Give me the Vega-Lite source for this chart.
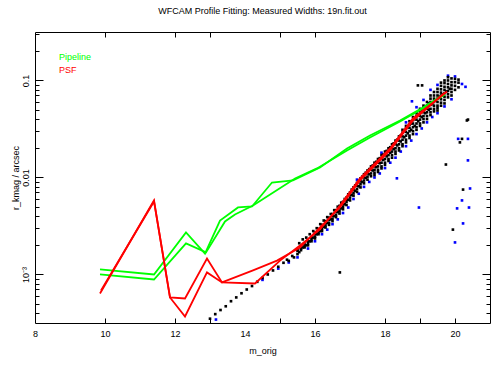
{
  "$schema": "https://vega.github.io/schema/vega-lite/v6.json",
  "autosize": "none",
  "width": 455,
  "height": 291,
  "padding": {"left": 35, "top": 32, "right": 7, "bottom": 42},
  "background": "white",
  "config": {
    "view": {"stroke": "#000000", "strokeWidth": 1},
    "font": "Liberation Sans",
    "axis": {"labelFont": "Liberation Sans", "titleFont": "Liberation Sans", "labelFontSize": 9, "titleFontSize": 9, "labelColor": "#000", "titleColor": "#000", "tickColor": "#000", "grid": false, "domain": false, "titleFontWeight": "normal"}
  },
  "title": {"text": "WFCAM Profile Fitting: Measured Widths: 19n.fit.out", "fontSize": 9, "font": "Liberation Sans", "fontWeight": "normal", "color": "#000", "offset": 16, "anchor": "middle"},
  "datasets": {
    "blue": [
      {"m": 13.17, "w": 0.000343}, {"m": 14.5, "w": 0.00088}, {"m": 14.95, "w": 0.00115}, {"m": 15.25, "w": 0.00133},
      {"m": 15.5, "w": 0.0015}, {"m": 15.8, "w": 0.00185}, {"m": 16.0, "w": 0.0022}, {"m": 16.2, "w": 0.0026},
      {"m": 16.35, "w": 0.0029}, {"m": 16.5, "w": 0.0033}, {"m": 16.65, "w": 0.0037}, {"m": 16.8, "w": 0.0043},
      {"m": 16.95, "w": 0.0049}, {"m": 17.1, "w": 0.006}, {"m": 17.25, "w": 0.0068}, {"m": 17.4, "w": 0.008},
      {"m": 17.55, "w": 0.009}, {"m": 17.7, "w": 0.01}, {"m": 17.85, "w": 0.011}, {"m": 18.0, "w": 0.0125},
      {"m": 18.15, "w": 0.0142}, {"m": 18.3, "w": 0.016}, {"m": 18.45, "w": 0.0185}, {"m": 18.6, "w": 0.021},
      {"m": 18.75, "w": 0.024}, {"m": 18.9, "w": 0.028}, {"m": 19.05, "w": 0.032}, {"m": 19.2, "w": 0.037},
      {"m": 19.35, "w": 0.042}, {"m": 19.5, "w": 0.046}, {"m": 19.7, "w": 0.054}, {"m": 19.9, "w": 0.064},
      {"m": 17.2, "w": 0.0095}, {"m": 17.9, "w": 0.018}, {"m": 18.6, "w": 0.037}, {"m": 18.77, "w": 0.061},
      {"m": 18.9, "w": 0.053}, {"m": 19.1, "w": 0.063}, {"m": 19.3, "w": 0.08}, {"m": 19.5, "w": 0.09},
      {"m": 19.8, "w": 0.112}, {"m": 20.0, "w": 0.11}, {"m": 20.2, "w": 0.092}, {"m": 20.3, "w": 0.086},
      {"m": 18.34, "w": 0.0098}, {"m": 18.97, "w": 0.0049}, {"m": 20.37, "w": 0.015}, {"m": 20.43, "w": 0.0077},
      {"m": 20.2, "w": 0.0058}, {"m": 20.06, "w": 0.0048}, {"m": 20.4, "w": 0.0049}, {"m": 20.23, "w": 0.00336},
      {"m": 20.0, "w": 0.00214}, {"m": 20.09, "w": 0.025}, {"m": 20.37, "w": 0.025}
    ],
    "black": [
      {"m": 13.0, "w": 0.00035}, {"m": 13.15, "w": 0.00039}, {"m": 13.3, "w": 0.00043}, {"m": 13.45, "w": 0.00047},
      {"m": 13.6, "w": 0.00053}, {"m": 13.75, "w": 0.00058}, {"m": 13.9, "w": 0.00064}, {"m": 14.05, "w": 0.0007},
      {"m": 14.2, "w": 0.00076}, {"m": 14.35, "w": 0.00084}, {"m": 14.5, "w": 0.00092}, {"m": 14.65, "w": 0.001},
      {"m": 14.8, "w": 0.0011}, {"m": 14.95, "w": 0.0012}, {"m": 15.1, "w": 0.00132}, {"m": 15.2, "w": 0.00142},
      {"m": 15.25, "w": 0.00138}, {"m": 15.35, "w": 0.00155}, {"m": 15.4, "w": 0.0015}, {"m": 16.71, "w": 0.00105},
      {"m": 15.5, "w": 0.00162}, {"m": 15.5, "w": 0.00175}, {"m": 15.5, "w": 0.0018},
      {"m": 15.6, "w": 0.00178}, {"m": 15.6, "w": 0.00185}, {"m": 15.6, "w": 0.00195},
      {"m": 15.7, "w": 0.00195}, {"m": 15.7, "w": 0.00205}, {"m": 15.7, "w": 0.0019},
      {"m": 15.8, "w": 0.0021}, {"m": 15.8, "w": 0.0022}, {"m": 15.8, "w": 0.002},
      {"m": 15.9, "w": 0.0023}, {"m": 15.9, "w": 0.0024}, {"m": 15.9, "w": 0.0022},
      {"m": 16.0, "w": 0.00245}, {"m": 16.0, "w": 0.0026}, {"m": 16.0, "w": 0.00235}, {"m": 16.0, "w": 0.0027},
      {"m": 16.1, "w": 0.0027}, {"m": 16.1, "w": 0.00285}, {"m": 16.1, "w": 0.0026}, {"m": 16.1, "w": 0.00295},
      {"m": 16.2, "w": 0.00295}, {"m": 16.2, "w": 0.0031}, {"m": 16.2, "w": 0.0028}, {"m": 16.2, "w": 0.00325},
      {"m": 16.3, "w": 0.0032}, {"m": 16.3, "w": 0.0034}, {"m": 16.3, "w": 0.00305}, {"m": 16.3, "w": 0.00355},
      {"m": 16.4, "w": 0.0034}, {"m": 16.4, "w": 0.00365}, {"m": 16.4, "w": 0.00325}, {"m": 16.4, "w": 0.00385},
      {"m": 16.5, "w": 0.00375}, {"m": 16.5, "w": 0.004}, {"m": 16.5, "w": 0.00355}, {"m": 16.5, "w": 0.0042},
      {"m": 16.6, "w": 0.0041}, {"m": 16.6, "w": 0.0044}, {"m": 16.6, "w": 0.0039}, {"m": 16.6, "w": 0.0046},
      {"m": 16.7, "w": 0.0045}, {"m": 16.7, "w": 0.0048}, {"m": 16.7, "w": 0.00425}, {"m": 16.7, "w": 0.0051},
      {"m": 16.8, "w": 0.005}, {"m": 16.8, "w": 0.0053}, {"m": 16.8, "w": 0.0047}, {"m": 16.8, "w": 0.0056},
      {"m": 16.9, "w": 0.0056}, {"m": 16.9, "w": 0.0059}, {"m": 16.9, "w": 0.0052}, {"m": 16.9, "w": 0.0062},
      {"m": 17.0, "w": 0.0062}, {"m": 17.0, "w": 0.0066}, {"m": 17.0, "w": 0.0058}, {"m": 17.0, "w": 0.007},
      {"m": 17.1, "w": 0.0069}, {"m": 17.1, "w": 0.0074}, {"m": 17.1, "w": 0.0065}, {"m": 17.1, "w": 0.0079},
      {"m": 17.2, "w": 0.0076}, {"m": 17.2, "w": 0.0082}, {"m": 17.2, "w": 0.0071}, {"m": 17.2, "w": 0.0088},
      {"m": 17.3, "w": 0.0085}, {"m": 17.3, "w": 0.0091}, {"m": 17.3, "w": 0.0079}, {"m": 17.3, "w": 0.0098},
      {"m": 17.4, "w": 0.0093}, {"m": 17.4, "w": 0.01}, {"m": 17.4, "w": 0.0087}, {"m": 17.4, "w": 0.0108},
      {"m": 17.5, "w": 0.0102}, {"m": 17.5, "w": 0.011}, {"m": 17.5, "w": 0.0095}, {"m": 17.5, "w": 0.0118},
      {"m": 17.6, "w": 0.011}, {"m": 17.6, "w": 0.012}, {"m": 17.6, "w": 0.0103}, {"m": 17.6, "w": 0.013},
      {"m": 17.7, "w": 0.012}, {"m": 17.7, "w": 0.013}, {"m": 17.7, "w": 0.0112}, {"m": 17.7, "w": 0.0142}, {"m": 17.7, "w": 0.0106},
      {"m": 17.8, "w": 0.013}, {"m": 17.8, "w": 0.0142}, {"m": 17.8, "w": 0.012}, {"m": 17.8, "w": 0.0155}, {"m": 17.8, "w": 0.0114},
      {"m": 17.9, "w": 0.0142}, {"m": 17.9, "w": 0.0155}, {"m": 17.9, "w": 0.013}, {"m": 17.9, "w": 0.017}, {"m": 17.9, "w": 0.0124},
      {"m": 18.0, "w": 0.0155}, {"m": 18.0, "w": 0.017}, {"m": 18.0, "w": 0.0142}, {"m": 18.0, "w": 0.0185}, {"m": 18.0, "w": 0.0135},
      {"m": 18.1, "w": 0.017}, {"m": 18.1, "w": 0.0185}, {"m": 18.1, "w": 0.0155}, {"m": 18.1, "w": 0.02}, {"m": 18.1, "w": 0.0148},
      {"m": 18.2, "w": 0.0185}, {"m": 18.2, "w": 0.02}, {"m": 18.2, "w": 0.017}, {"m": 18.2, "w": 0.022}, {"m": 18.2, "w": 0.016},
      {"m": 18.3, "w": 0.02}, {"m": 18.3, "w": 0.022}, {"m": 18.3, "w": 0.0185}, {"m": 18.3, "w": 0.024}, {"m": 18.3, "w": 0.0175},
      {"m": 18.4, "w": 0.022}, {"m": 18.4, "w": 0.024}, {"m": 18.4, "w": 0.02}, {"m": 18.4, "w": 0.0265}, {"m": 18.4, "w": 0.019},
      {"m": 18.5, "w": 0.0245}, {"m": 18.5, "w": 0.0265}, {"m": 18.5, "w": 0.022}, {"m": 18.5, "w": 0.029}, {"m": 18.5, "w": 0.021}, {"m": 18.5, "w": 0.031},
      {"m": 18.6, "w": 0.027}, {"m": 18.6, "w": 0.0295}, {"m": 18.6, "w": 0.0245}, {"m": 18.6, "w": 0.032}, {"m": 18.6, "w": 0.023}, {"m": 18.6, "w": 0.034},
      {"m": 18.7, "w": 0.03}, {"m": 18.7, "w": 0.0325}, {"m": 18.7, "w": 0.027}, {"m": 18.7, "w": 0.035}, {"m": 18.7, "w": 0.0255}, {"m": 18.7, "w": 0.038},
      {"m": 18.8, "w": 0.033}, {"m": 18.8, "w": 0.036}, {"m": 18.8, "w": 0.03}, {"m": 18.8, "w": 0.039}, {"m": 18.8, "w": 0.028}, {"m": 18.8, "w": 0.042},
      {"m": 18.9, "w": 0.036}, {"m": 18.9, "w": 0.0395}, {"m": 18.9, "w": 0.033}, {"m": 18.9, "w": 0.043}, {"m": 18.9, "w": 0.031}, {"m": 18.9, "w": 0.046},
      {"m": 19.0, "w": 0.0395}, {"m": 19.0, "w": 0.043}, {"m": 19.0, "w": 0.036}, {"m": 19.0, "w": 0.047}, {"m": 19.0, "w": 0.034}, {"m": 19.0, "w": 0.051},
      {"m": 19.1, "w": 0.043}, {"m": 19.1, "w": 0.047}, {"m": 19.1, "w": 0.04}, {"m": 19.1, "w": 0.051}, {"m": 19.1, "w": 0.037}, {"m": 19.1, "w": 0.055},
      {"m": 19.2, "w": 0.047}, {"m": 19.2, "w": 0.051}, {"m": 19.2, "w": 0.043}, {"m": 19.2, "w": 0.055}, {"m": 19.2, "w": 0.04}, {"m": 19.2, "w": 0.06},
      {"m": 19.3, "w": 0.051}, {"m": 19.3, "w": 0.056}, {"m": 19.3, "w": 0.047}, {"m": 19.3, "w": 0.06}, {"m": 19.3, "w": 0.044}, {"m": 19.3, "w": 0.065}, {"m": 19.3, "w": 0.07},
      {"m": 19.4, "w": 0.055}, {"m": 19.4, "w": 0.06}, {"m": 19.4, "w": 0.051}, {"m": 19.4, "w": 0.065}, {"m": 19.4, "w": 0.048}, {"m": 19.4, "w": 0.07}, {"m": 19.4, "w": 0.076},
      {"m": 19.5, "w": 0.06}, {"m": 19.5, "w": 0.065}, {"m": 19.5, "w": 0.055}, {"m": 19.5, "w": 0.07}, {"m": 19.5, "w": 0.052}, {"m": 19.5, "w": 0.076}, {"m": 19.5, "w": 0.082}, {"m": 19.5, "w": 0.049},
      {"m": 19.6, "w": 0.064}, {"m": 19.6, "w": 0.07}, {"m": 19.6, "w": 0.059}, {"m": 19.6, "w": 0.075}, {"m": 19.6, "w": 0.055}, {"m": 19.6, "w": 0.081}, {"m": 19.6, "w": 0.088}, {"m": 19.6, "w": 0.095},
      {"m": 19.7, "w": 0.068}, {"m": 19.7, "w": 0.074}, {"m": 19.7, "w": 0.063}, {"m": 19.7, "w": 0.08}, {"m": 19.7, "w": 0.058}, {"m": 19.7, "w": 0.086}, {"m": 19.7, "w": 0.094}, {"m": 19.7, "w": 0.1},
      {"m": 19.8, "w": 0.072}, {"m": 19.8, "w": 0.078}, {"m": 19.8, "w": 0.067}, {"m": 19.8, "w": 0.085}, {"m": 19.8, "w": 0.092}, {"m": 19.8, "w": 0.1}, {"m": 19.8, "w": 0.108},
      {"m": 19.9, "w": 0.076}, {"m": 19.9, "w": 0.082}, {"m": 19.9, "w": 0.089}, {"m": 19.9, "w": 0.096}, {"m": 19.9, "w": 0.105}, {"m": 19.9, "w": 0.07},
      {"m": 20.0, "w": 0.08}, {"m": 20.0, "w": 0.088}, {"m": 20.0, "w": 0.096}, {"m": 20.0, "w": 0.104},
      {"m": 20.1, "w": 0.085}, {"m": 20.1, "w": 0.095}, {"m": 20.1, "w": 0.102},
      {"m": 18.94, "w": 0.089}, {"m": 19.06, "w": 0.089}, {"m": 20.14, "w": 0.023}, {"m": 19.74, "w": 0.0136},
      {"m": 19.94, "w": 0.0029}, {"m": 20.34, "w": 0.0387}, {"m": 20.37, "w": 0.0395}, {"m": 20.23, "w": 0.0075}, {"m": 20.2, "w": 0.025},
      {"m": 15.55, "w": 0.0021}, {"m": 15.65, "w": 0.0023}, {"m": 15.75, "w": 0.0024}, {"m": 15.85, "w": 0.0026},
      {"m": 15.95, "w": 0.0028}, {"m": 16.05, "w": 0.003}, {"m": 16.15, "w": 0.0033}, {"m": 16.25, "w": 0.0036},
      {"m": 16.35, "w": 0.0039}, {"m": 16.45, "w": 0.0042}, {"m": 16.55, "w": 0.0046}, {"m": 16.65, "w": 0.005},
      {"m": 16.75, "w": 0.0055}, {"m": 16.85, "w": 0.006}, {"m": 16.95, "w": 0.0067}, {"m": 17.05, "w": 0.0075},
      {"m": 17.15, "w": 0.0083}, {"m": 17.25, "w": 0.0092}, {"m": 17.35, "w": 0.0102}, {"m": 17.45, "w": 0.0112},
      {"m": 17.55, "w": 0.0122}, {"m": 17.65, "w": 0.0133}, {"m": 17.75, "w": 0.0145}, {"m": 17.85, "w": 0.0158},
      {"m": 17.95, "w": 0.0172}, {"m": 18.05, "w": 0.0188}, {"m": 18.15, "w": 0.0205}, {"m": 18.25, "w": 0.0225},
      {"m": 18.35, "w": 0.0245}, {"m": 18.45, "w": 0.027}, {"m": 18.55, "w": 0.03}, {"m": 18.65, "w": 0.033},
      {"m": 18.75, "w": 0.036}, {"m": 18.85, "w": 0.04}, {"m": 18.95, "w": 0.044}, {"m": 19.05, "w": 0.048},
      {"m": 19.15, "w": 0.053}, {"m": 19.25, "w": 0.058},
      {"m": 15.55, "w": 0.0017}, {"m": 15.65, "w": 0.0019}, {"m": 15.75, "w": 0.002}, {"m": 15.85, "w": 0.0022},
      {"m": 15.95, "w": 0.0024}, {"m": 16.05, "w": 0.0026}, {"m": 16.15, "w": 0.0028}, {"m": 16.25, "w": 0.0031},
      {"m": 16.35, "w": 0.0034}, {"m": 16.45, "w": 0.0037}, {"m": 16.55, "w": 0.004}, {"m": 16.65, "w": 0.0044},
      {"m": 16.75, "w": 0.0048}, {"m": 16.85, "w": 0.0053}, {"m": 16.95, "w": 0.0059}, {"m": 17.05, "w": 0.0066},
      {"m": 17.15, "w": 0.0073}, {"m": 17.25, "w": 0.0081}, {"m": 17.35, "w": 0.009}, {"m": 17.45, "w": 0.0099},
      {"m": 17.55, "w": 0.0108}, {"m": 17.65, "w": 0.0118}, {"m": 17.75, "w": 0.0128}, {"m": 17.85, "w": 0.014},
      {"m": 17.95, "w": 0.0152}, {"m": 18.05, "w": 0.0165}, {"m": 18.15, "w": 0.018}, {"m": 18.25, "w": 0.0196},
      {"m": 18.35, "w": 0.0214}, {"m": 18.45, "w": 0.0235}, {"m": 18.55, "w": 0.026}, {"m": 18.65, "w": 0.0285},
      {"m": 18.75, "w": 0.031}, {"m": 18.85, "w": 0.034}, {"m": 18.95, "w": 0.038}, {"m": 19.05, "w": 0.042},
      {"m": 19.15, "w": 0.046}, {"m": 19.25, "w": 0.05}, {"m": 19.35, "w": 0.057}, {"m": 19.45, "w": 0.062},
      {"m": 19.55, "w": 0.068}, {"m": 19.65, "w": 0.072}, {"m": 19.75, "w": 0.077}, {"m": 19.85, "w": 0.082}
    ],
    "lines": [
      {"m": 9.857, "w": 0.000637, "series": "PSF", "run": "a"},
      {"m": 11.4, "w": 0.00579, "series": "PSF", "run": "a"},
      {"m": 11.857, "w": 0.000579, "series": "PSF", "run": "a"},
      {"m": 12.286, "w": 0.000566, "series": "PSF", "run": "a"},
      {"m": 12.914, "w": 0.00146, "series": "PSF", "run": "a"},
      {"m": 13.343, "w": 0.000828, "series": "PSF", "run": "a"},
      {"m": 14.229, "w": 0.0011, "series": "PSF", "run": "a"},
      {"m": 14.914, "w": 0.00139, "series": "PSF", "run": "a"},
      {"m": 15.571, "w": 0.0019, "series": "PSF", "run": "a"},
      {"m": 16.143, "w": 0.00305, "series": "PSF", "run": "a"},
      {"m": 16.714, "w": 0.00491, "series": "PSF", "run": "a"},
      {"m": 17.286, "w": 0.00931, "series": "PSF", "run": "a"},
      {"m": 18.143, "w": 0.019, "series": "PSF", "run": "a"},
      {"m": 18.8, "w": 0.0387, "series": "PSF", "run": "a"},
      {"m": 19.714, "w": 0.0752, "series": "PSF", "run": "a"},
      {"m": 9.886, "w": 0.000684, "series": "PSF", "run": "b"},
      {"m": 11.4, "w": 0.00566, "series": "PSF", "run": "b"},
      {"m": 11.857, "w": 0.000579, "series": "PSF", "run": "b"},
      {"m": 12.286, "w": 0.000369, "series": "PSF", "run": "b"},
      {"m": 12.914, "w": 0.00105, "series": "PSF", "run": "b"},
      {"m": 13.343, "w": 0.000828, "series": "PSF", "run": "b"},
      {"m": 14.286, "w": 0.000807, "series": "PSF", "run": "b"},
      {"m": 15.0, "w": 0.00139, "series": "PSF", "run": "b"},
      {"m": 15.571, "w": 0.00199, "series": "PSF", "run": "b"},
      {"m": 16.143, "w": 0.00291, "series": "PSF", "run": "b"},
      {"m": 16.714, "w": 0.00514, "series": "PSF", "run": "b"},
      {"m": 17.286, "w": 0.00977, "series": "PSF", "run": "b"},
      {"m": 18.143, "w": 0.0199, "series": "PSF", "run": "b"},
      {"m": 18.8, "w": 0.0406, "series": "PSF", "run": "b"},
      {"m": 19.771, "w": 0.0771, "series": "PSF", "run": "b"},
      {"m": 9.857, "w": 0.001127, "series": "Pipeline", "run": "a"},
      {"m": 11.4, "w": 0.001, "series": "Pipeline", "run": "a"},
      {"m": 12.314, "w": 0.00271, "series": "Pipeline", "run": "a"},
      {"m": 12.857, "w": 0.00164, "series": "Pipeline", "run": "a"},
      {"m": 13.286, "w": 0.0036, "series": "Pipeline", "run": "a"},
      {"m": 13.8, "w": 0.00491, "series": "Pipeline", "run": "a"},
      {"m": 14.2, "w": 0.00502, "series": "Pipeline", "run": "a"},
      {"m": 14.771, "w": 0.00887, "series": "Pipeline", "run": "a"},
      {"m": 15.371, "w": 0.00931, "series": "Pipeline", "run": "a"},
      {"m": 16.143, "w": 0.0127, "series": "Pipeline", "run": "a"},
      {"m": 16.914, "w": 0.0199, "series": "Pipeline", "run": "a"},
      {"m": 17.571, "w": 0.0271, "series": "Pipeline", "run": "a"},
      {"m": 18.429, "w": 0.0387, "series": "Pipeline", "run": "a"},
      {"m": 19.086, "w": 0.0527, "series": "Pipeline", "run": "a"},
      {"m": 19.714, "w": 0.0735, "series": "Pipeline", "run": "a"},
      {"m": 9.857, "w": 0.001, "series": "Pipeline", "run": "b"},
      {"m": 11.4, "w": 0.000887, "series": "Pipeline", "run": "b"},
      {"m": 12.314, "w": 0.00209, "series": "Pipeline", "run": "b"},
      {"m": 12.886, "w": 0.00169, "series": "Pipeline", "run": "b"},
      {"m": 13.429, "w": 0.00352, "series": "Pipeline", "run": "b"},
      {"m": 13.714, "w": 0.00416, "series": "Pipeline", "run": "b"},
      {"m": 14.229, "w": 0.00514, "series": "Pipeline", "run": "b"},
      {"m": 15.429, "w": 0.00977, "series": "Pipeline", "run": "b"},
      {"m": 16.057, "w": 0.0124, "series": "Pipeline", "run": "b"},
      {"m": 16.914, "w": 0.019, "series": "Pipeline", "run": "b"},
      {"m": 17.571, "w": 0.0258, "series": "Pipeline", "run": "b"},
      {"m": 18.429, "w": 0.0378, "series": "Pipeline", "run": "b"},
      {"m": 19.086, "w": 0.0514, "series": "Pipeline", "run": "b"},
      {"m": 19.714, "w": 0.0718, "series": "Pipeline", "run": "b"}
    ]
  },
  "resolve": {"axis": {"x": "independent", "y": "independent"}},
  "layer": [
    {
      "data": {"name": "blue"},
      "mark": {"type": "square", "size": 7, "color": "#0000ff", "opacity": 1},
      "encoding": {
        "x": {"field": "m", "type": "quantitative", "scale": {"domain": [8, 21], "nice": false, "zero": false},
          "axis": {"orient": "bottom", "values": [8, 10, 12, 13, 14, 15, 16, 18, 19, 20],
            "labelExpr": "datum.value % 2 == 0 ? datum.label : ''",
            "tickOpacity": {"condition": {"test": "datum.value == 14 || datum.value == 8", "value": 0}, "value": 1},
            "tickSize": -5, "labelPadding": 11, "labelFlush": false, "labelOverlap": false, "title": "m_orig", "titlePadding": 8}},
        "y": {"field": "w", "type": "quantitative", "scale": {"type": "log", "domain": [0.000316, 0.316], "nice": false},
          "axis": {"orient": "left", "values": [0.001, 0.01, 0.1],
            "labelExpr": "datum.value < 0.005 ? '10⁻³' : (datum.value < 0.05 ? '0.01' : '0.1')",
            "labelAngle": -90, "labelAlign": "center", "labelBaseline": "bottom", "tickSize": -8, "labelPadding": 13,
            "title": "r_kmag / arcsec", "titlePadding": 1}}
      }
    },
    {
      "data": {"name": "black"},
      "mark": {"type": "square", "size": 7, "color": "#000000", "opacity": 1},
      "encoding": {
        "x": {"field": "m", "type": "quantitative",
          "axis": {"orient": "top", "values": [10, 12, 13, 15, 16, 18, 19], "labels": false, "tickSize": -5, "title": null}},
        "y": {"field": "w", "type": "quantitative",
          "axis": {"orient": "right", "values": [0.001, 0.01, 0.1], "labels": false, "tickSize": -8, "title": null}}
      }
    },
    {
      "data": {"name": "lines"},
      "transform": [{"filter": "datum.series == 'Pipeline'"}],
      "mark": {"type": "line", "strokeWidth": 1.8, "interpolate": "linear"},
      "encoding": {
        "x": {"field": "m", "type": "quantitative", "axis": null},
        "y": {"field": "w", "type": "quantitative",
          "axis": {"orient": "left", "values": [0.0004, 0.0005, 0.0006, 0.0007, 0.0008, 0.0009, 0.002, 0.003, 0.004, 0.005, 0.006, 0.007, 0.008, 0.009, 0.02, 0.03, 0.04, 0.05, 0.06, 0.07, 0.08, 0.09, 0.2, 0.3], "labels": false, "tickSize": -4, "title": null}},
        "color": {"field": "series", "type": "nominal", "scale": {"domain": ["Pipeline", "PSF"], "range": ["#00ff00", "#ff0000"]},
          "legend": {"orient": "none", "legendX": 13, "legendY": 20, "title": null, "symbolSize": 0, "symbolOpacity": 0, "symbolStrokeWidth": 0, "labelOffset": 2, "labelFontSize": 9, "labelFont": "Liberation Sans", "rowPadding": 3,
            "labelColor": {"expr": "datum.label == 'PSF' ? '#ff0000' : '#00ff00'"}}},
        "detail": {"field": "run"},
        "order": {"field": "m", "type": "quantitative"}
      }
    },
    {
      "data": {"name": "lines"},
      "transform": [{"filter": "datum.series == 'PSF'"}],
      "mark": {"type": "line", "strokeWidth": 1.8, "interpolate": "linear"},
      "encoding": {
        "x": {"field": "m", "type": "quantitative", "axis": null},
        "y": {"field": "w", "type": "quantitative",
          "axis": {"orient": "right", "values": [0.0004, 0.0005, 0.0006, 0.0007, 0.0008, 0.0009, 0.002, 0.003, 0.004, 0.005, 0.006, 0.007, 0.008, 0.009, 0.02, 0.03, 0.04, 0.05, 0.06, 0.07, 0.08, 0.09, 0.2, 0.3], "labels": false, "tickSize": -4, "title": null}},
        "color": {"field": "series", "type": "nominal"},
        "detail": {"field": "run"},
        "order": {"field": "m", "type": "quantitative"}
      }
    }
  ]
}
